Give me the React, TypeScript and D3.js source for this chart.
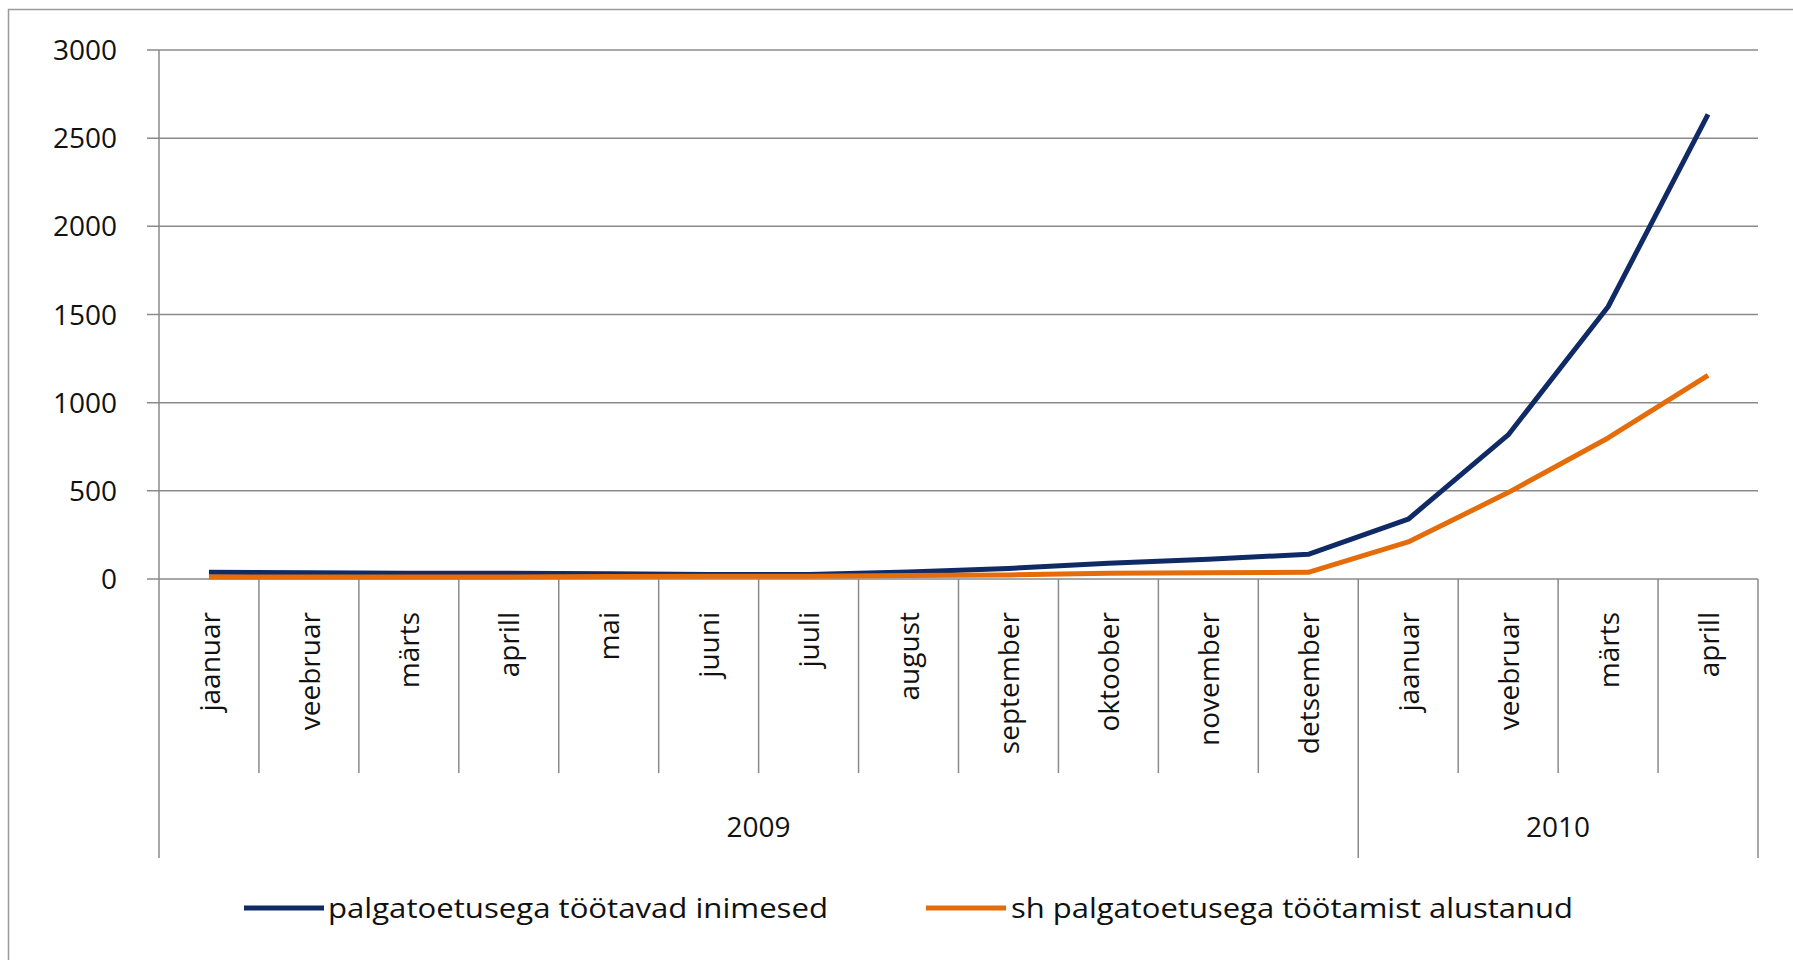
import React from "react";
import * as d3 from "d3";

const months = [
  "jaanuar", "veebruar", "märts", "aprill", "mai", "juuni", "juuli", "august",
  "september", "oktoober", "november", "detsember",
  "jaanuar", "veebruar", "märts", "aprill",
];
const years = [
  { label: "2009", start: 0, end: 12 },
  { label: "2010", start: 12, end: 16 },
];
const seriesNames = ["palgatoetusega töötavad inimesed", "sh palgatoetusega töötamist  alustanud"];
const employed = [38, 35, 33, 32, 30, 25, 25, 40, 60, 89, 112, 140, 339, 817, 1544, 2635];
const started = [12, 12, 12, 12, 14, 15, 15, 20, 23, 32, 36, 38, 210, 490, 800, 1155];
const yTicks = [0, 500, 1000, 1500, 2000, 2500, 3000];
const colors = ["#102a66", "#e46c0a"];

const W = 1793;
const H = 960;
const left = 159;
const right = 1758;
const top = 50;
const zeroY = 579;
const monthBottom = 773;
const yearBottom = 858;
const grid = "#8a8a8a";
const font = "'Open Sans', sans-serif";

export default function App() {
  const x = d3.scaleBand<number>().domain(d3.range(months.length)).range([left, right]).paddingInner(0).paddingOuter(0);
  const y = d3.scaleLinear().domain([0, 3000]).range([zeroY, top]);
  const cx = (i: number) => (x(i) as number) + x.bandwidth() / 2;
  const line = d3.line<number>().x((_, i) => cx(i)).y((d) => y(d));
  const bx = (i: number) => (i >= months.length ? right : (x(i) as number));

  return (
    <svg width={W} height={H} style={{ position: "absolute", left: 0, top: 0, background: "#fff" }}>
      {/* outer border (top & left) */}
      <path d={`M8.5,${H} L8.5,9.5 L${W},9.5`} fill="none" stroke="#9a9a9a" strokeWidth={1.5} />
      {/* gridlines + y ticks */}
      {yTicks.map((t) => (
        <g key={t}>
          <line x1={left - 12} x2={right} y1={y(t)} y2={y(t)} stroke={grid} strokeWidth={1.5} />
          <text x={117} y={y(t)} dy="0.36em" textAnchor="end" fontFamily={font} fontSize={28} fill="#111">
            {t}
          </text>
        </g>
      ))}
      {/* y axis */}
      <line x1={left} x2={left} y1={top} y2={yearBottom} stroke={grid} strokeWidth={1.5} />
      {/* category boundaries */}
      {d3.range(1, months.length + 1).map((i) => {
        const isYear = years.some((yr) => yr.end === i);
        return (
          <line key={i} x1={bx(i)} x2={bx(i)} y1={zeroY} y2={isYear ? yearBottom : monthBottom} stroke={grid} strokeWidth={1.5} />
        );
      })}
      {/* month labels */}
      {months.map((m, i) => (
        <text
          key={i}
          transform={`translate(${cx(i)},612) rotate(-90)`}
          textAnchor="end"
          dy="0.38em"
          fontFamily={font}
          fontSize={28}
          fill="#111"
        >
          {m}
        </text>
      ))}
      {/* year labels */}
      {years.map((yr) => (
        <text
          key={yr.label}
          x={(bx(yr.start) + bx(yr.end)) / 2}
          y={827}
          dy="0.36em"
          textAnchor="middle"
          fontFamily={font}
          fontSize={28}
          fill="#111"
        >
          {yr.label}
        </text>
      ))}
      {/* series */}
      {[employed, started].map((s, k) => (
        <path key={k} d={line(s) || ""} fill="none" stroke={colors[k]} strokeWidth={5} strokeLinejoin="round" />
      ))}
      {/* legend */}
      <line x1={244} x2={324} y1={908} y2={908} stroke={colors[0]} strokeWidth={5} />
      <text x={328} y={908} dy="0.36em" fontFamily={font} fontSize={28} fill="#111" textLength={500} lengthAdjust="spacingAndGlyphs">
        {seriesNames[0]}
      </text>
      <line x1={926} x2={1006} y1={908} y2={908} stroke={colors[1]} strokeWidth={5} />
      <text x={1011} y={908} dy="0.36em" fontFamily={font} fontSize={28} fill="#111" textLength={562} lengthAdjust="spacingAndGlyphs">
        {seriesNames[1]}
      </text>
    </svg>
  );
}
